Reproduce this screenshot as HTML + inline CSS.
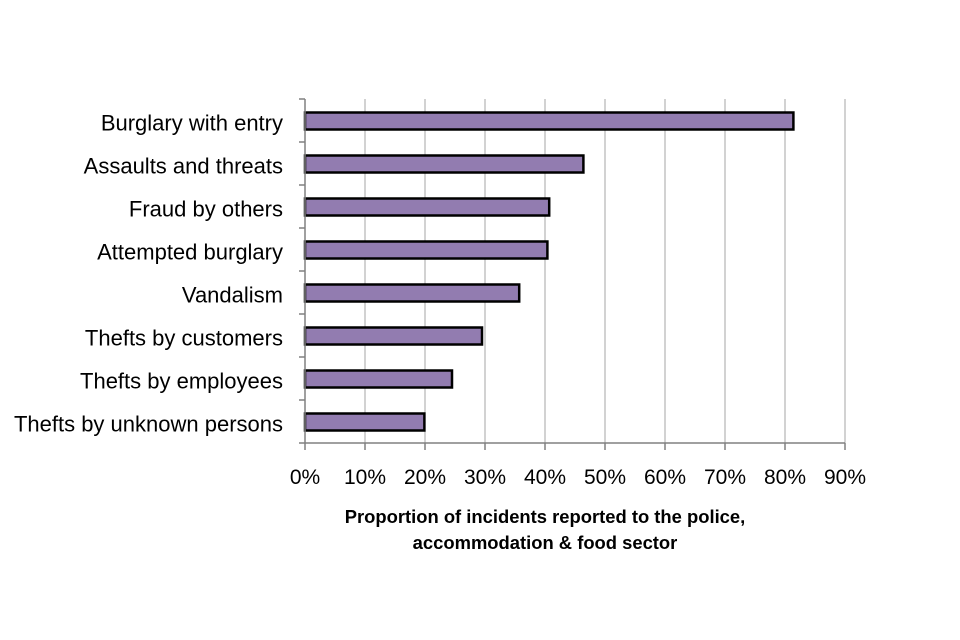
<!DOCTYPE html>
<html><head><meta charset="utf-8"><style>
html,body{margin:0;padding:0;background:#fff;}
svg{display:block;font-family:"Liberation Sans",Arial,sans-serif;}
</style></head><body>
<svg id="chart" width="960" height="640" viewBox="0 0 960 640">
<g id="grid"></g>
<g id="bars"></g>
<g id="axes"></g>
<g id="labels"></g>
<text x="545" y="523" text-anchor="middle" font-size="18.4" font-weight="bold" fill="#000">Proportion of incidents reported to the police,</text>
<text x="545" y="549" text-anchor="middle" font-size="18.4" font-weight="bold" fill="#000">accommodation &amp; food sector</text>
</svg>
<script>
const categories = ["Burglary with entry","Assaults and threats","Fraud by others","Attempted burglary","Vandalism","Thefts by customers","Thefts by employees","Thefts by unknown persons"];
const values = [81.4,46.4,40.7,40.4,35.7,29.5,24.5,19.9];
const tickValues = [0,10,20,30,40,50,60,70,80,90];
const tickLabels = ["0%","10%","20%","30%","40%","50%","60%","70%","80%","90%"];

const NS="http://www.w3.org/2000/svg";
const x0=305,x1=845,y0=99,y1=443,xmax=90;
const xs=v=>x0+(v/xmax)*(x1-x0);
const band=(y1-y0)/categories.length;
const ys=i=>y0+i*band;
function mk(tag,attrs,parent){const e=document.createElementNS(NS,tag);for(const k in attrs)e.setAttribute(k,attrs[k]);parent.appendChild(e);return e;}
const grid=document.getElementById('grid'),bars=document.getElementById('bars'),axes=document.getElementById('axes'),labels=document.getElementById('labels');

tickValues.forEach((t,i)=>{
  if(t>0){const g=mk('line',{x1:xs(t),x2:xs(t),y1:y0,y2:y1,stroke:'#a6a6a6','stroke-width':1},grid);
  
  }
  const tk=mk('line',{x1:xs(t),x2:xs(t),y1:y1,y2:y1+7,stroke:'#808080','stroke-width':1.5},axes);
  
  
  const tl=mk('text',{x:xs(t),y:y1+41,'text-anchor':'middle','font-size':21,fill:'#000'},labels);
  tl.textContent=tickLabels[i];
  
  
});
categories.forEach((c,i)=>{
  const cy=ys(i)+band/2;
  const r=mk('rect',{x:x0,y:cy-8,width:xs(values[i])-x0,height:17,fill:'#927cb0',stroke:'#000','stroke-width':2.5},bars);
  
  
  const t=mk('text',{x:283,y:cy+10,'text-anchor':'end','font-size':22,fill:'#000'},labels);
  t.textContent=c;
  
  
});
for(let i=0;i<=categories.length;i++){
  const tk=mk('line',{x1:x0-6,x2:x0,y1:ys(i),y2:ys(i),stroke:'#808080','stroke-width':1.5},axes);
  
  
}
const ya=mk('line',{x1:x0,x2:x0,y1:y0,y2:y1,stroke:'#808080','stroke-width':1.5},axes);


const xa=mk('line',{x1:x0,x2:x1,y1:y1,y2:y1,stroke:'#808080','stroke-width':1.5},axes);


</script>
</body></html>
